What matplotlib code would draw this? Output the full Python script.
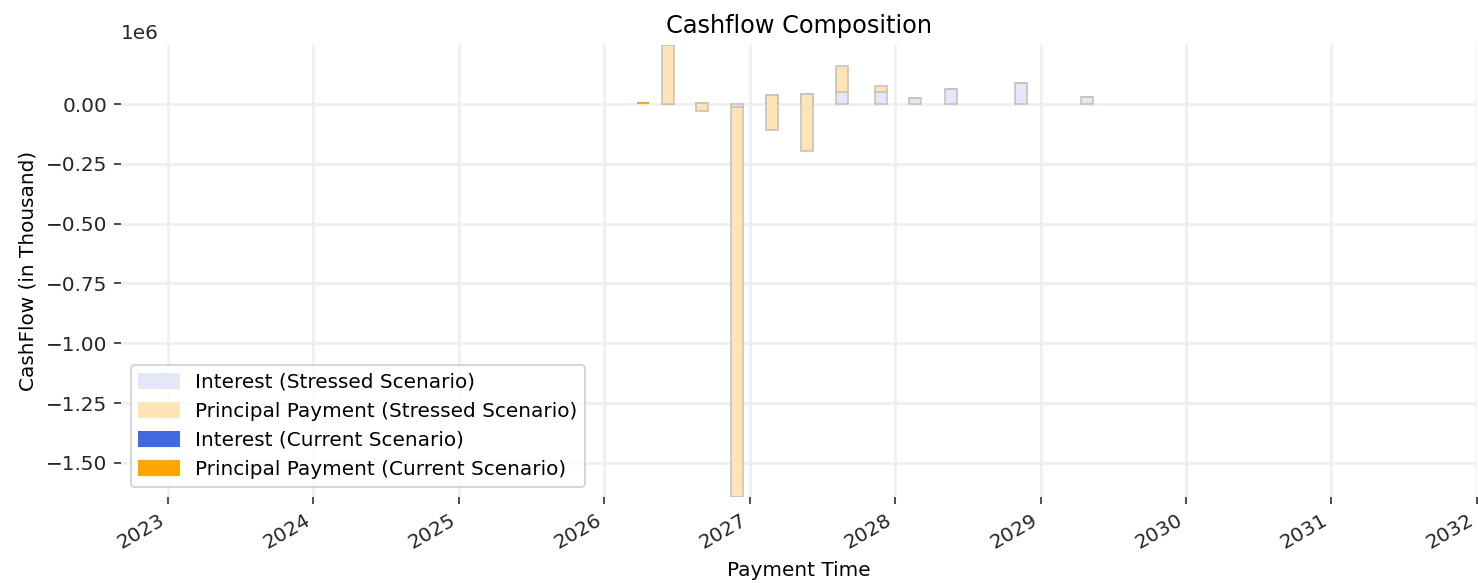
import pandas as pd
import matplotlib.pyplot as plt
from matplotlib.patches import Patch

# stressed scenario, values in units of 1e6
stress_dates = pd.to_datetime([
    '2026-06-09', '2026-09-04', '2026-12-01', '2027-02-27', '2027-05-26',
    '2027-08-22', '2027-11-26', '2028-02-20', '2028-05-21', '2028-11-13',
    '2029-04-28'])
stress_interest = [0.0, 0.003, -0.014, 0.036, 0.042, 0.049, 0.049, 0.024, 0.061, 0.086, 0.031]
stress_principal = [0.247, -0.033, -1.627, -0.146, -0.239, 0.109, 0.025, 0.0, 0.0, 0.0, 0.0]

# current scenario
curr_dates = pd.to_datetime(['2026-04-08'])
curr_interest = [0.0]
curr_principal = [0.007]

scale = 1e6
s_int = [v * scale for v in stress_interest]
s_pri = [v * scale for v in stress_principal]
c_int = [v * scale for v in curr_interest]
c_pri = [v * scale for v in curr_principal]

fig, ax = plt.subplots(figsize=(1478 / 144, 583 / 144), dpi=144)

edge = '#c6c1bb'
ax.bar(stress_dates, s_int, width=30, color='lavender', edgecolor=edge, linewidth=0.8, zorder=3)
ax.bar(stress_dates, s_pri, width=30, bottom=s_int, color='moccasin', edgecolor=edge,
       linewidth=0.8, zorder=3)
ax.bar(curr_dates, c_int, width=30, color='royalblue', zorder=4)
ax.bar(curr_dates, c_pri, width=30, bottom=c_int, color='orange', zorder=4)

ax.set_xlim(pd.Timestamp('2022-09-05'), pd.Timestamp('2032-01-01'))
ax.margins(y=0)
ax.autoscale(axis='y', tight=True)

for s in ax.spines.values():
    s.set_visible(False)
ax.grid(True, color='#efefef', linewidth=1.4, zorder=0)
ax.set_axisbelow(True)
ax.tick_params(colors='#262626')

ax.set_title('Cashflow Composition', fontsize=12)
ax.set_xlabel('Payment Time')
ax.set_ylabel('CashFlow (in Thousand)')

handles = [Patch(color='lavender', label='Interest (Stressed Scenario)'),
           Patch(color='moccasin', label='Principal Payment (Stressed Scenario)'),
           Patch(color='royalblue', label='Interest (Current Scenario)'),
           Patch(color='orange', label='Principal Payment (Current Scenario)')]
ax.legend(handles=handles, loc='lower left')

plt.setp(ax.get_xticklabels(), rotation=30, ha='right')
fig.subplots_adjust(left=0.082, right=0.999, top=0.923, bottom=0.148)
fig.savefig('out.png', dpi=144)
